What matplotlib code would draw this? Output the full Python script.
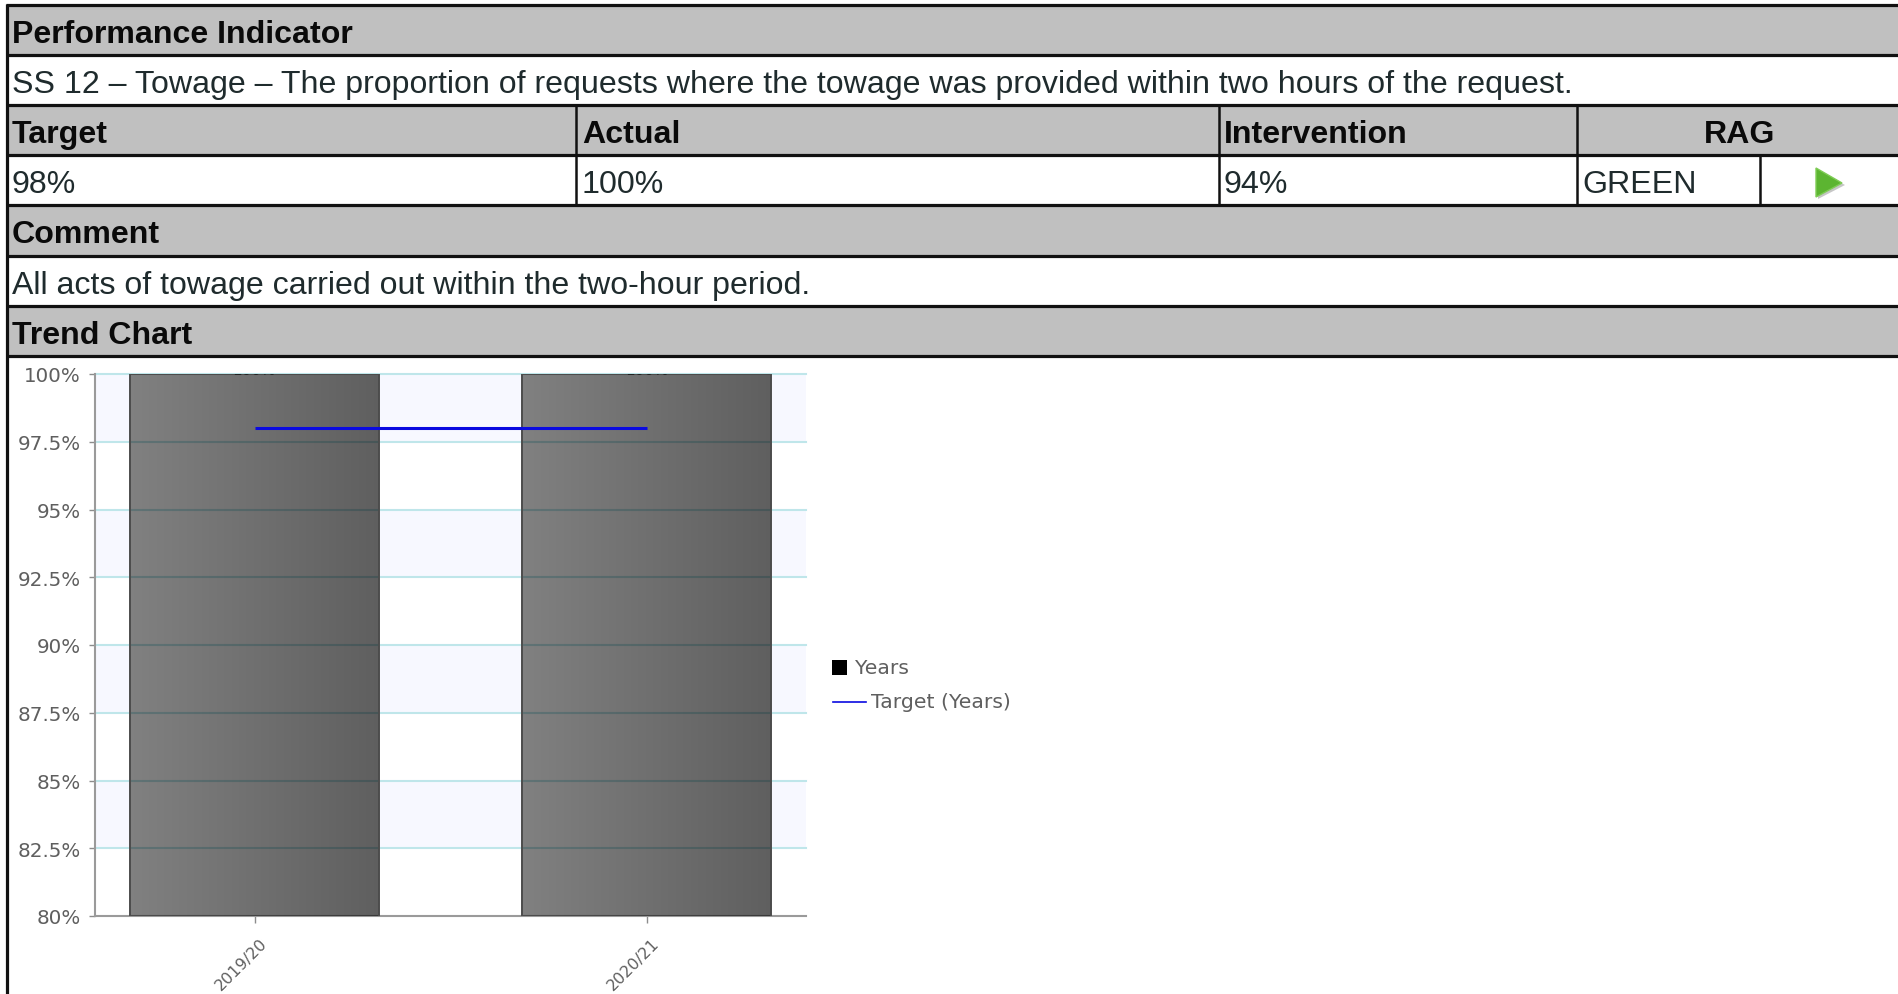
import matplotlib
matplotlib.use("Agg")
import matplotlib.pyplot as plt
from matplotlib.patches import Polygon, Rectangle
from matplotlib.transforms import ScaledTranslation
import numpy as np

# ---------------- DATA ----------------
years = ["2019/20", "2020/21"]
actual = [100, 100]
target = [98, 98]
y_ticks = [80, 82.5, 85, 87.5, 90, 92.5, 95, 97.5, 100]
y_labels = ["80%", "82.5%", "85%", "87.5%", "90%", "92.5%", "95%", "97.5%", "100%"]
legend_labels = ["Years", "Target (Years)"]

title_head = "Performance Indicator"
title_text = "SS 12 – Towage – The proportion of requests where the towage was provided within two hours of the request."
col_heads = ["Target", "Actual", "Intervention", "RAG"]
col_values = ["98%", "100%", "94%", "GREEN"]
comment_head = "Comment"
comment_text = "All acts of towage carried out within the two-hour period."
chart_head = "Trend Chart"

W, H = 1898, 995
GREY = "#c0c0c0"
INK = "#1f2b2d"
CHART_TEXT = "#5f5f5f"
ARIAL = "Liberation Sans"

fig = plt.figure(figsize=(W / 100, H / 100), dpi=100, facecolor="white")

# ---------------- TABLE (pixel coordinates) ----------------
page = fig.add_axes([0, 0, 1, 1], zorder=5)
page.set_xlim(0, W)
page.set_ylim(H, 0)
page.axis("off")
page.patch.set_alpha(0)

row_lines = [6, 56, 106, 156, 206, 257, 307, 357]
for top, bottom in [(0, 1), (2, 3), (4, 5), (6, 7)]:
    page.add_patch(Rectangle((8, row_lines[top]), W - 8, row_lines[bottom] - row_lines[top],
                             facecolor=GREY, edgecolor="none", zorder=0))
for y in row_lines:
    page.plot([6, W], [y, y], color="#111111", lw=2.3, solid_capstyle="butt", zorder=2)
page.plot([7.5, 7.5], [5, H], color="#111111", lw=2.3, solid_capstyle="butt", zorder=2)

for x, y0, y1 in [(576, 106, 206), (1219, 106, 206), (1577, 106, 206), (1760, 156, 206)]:
    page.plot([x, x], [y0, y1], color="#111111", lw=1.8, solid_capstyle="butt", zorder=2)


def cell(x, y, s, bold=False, ha="left"):
    page.text(x, y, s, family=ARIAL, fontsize=23.1, ha=ha, va="center",
              fontweight="bold" if bold else "normal",
              color="#0a0a0a" if bold else INK, zorder=3)


cell(12, 35, title_head, bold=True)
cell(12, 85, title_text)
cell(12, 135, col_heads[0], bold=True)
cell(582, 135, col_heads[1], bold=True)
cell(1224, 135, col_heads[2], bold=True)
cell(1740, 135, col_heads[3], bold=True, ha="center")
cell(12, 185, col_values[0])
cell(582, 185, col_values[1])
cell(1224, 185, col_values[2])
cell(1582, 185, col_values[3])
cell(12, 235, comment_head, bold=True)
cell(12, 286, comment_text)
cell(12, 336, chart_head, bold=True)

# green RAG arrow
page.add_patch(Polygon([(1818, 171), (1818, 200), (1845, 186)], closed=True,
                       facecolor="#8f8f8f", edgecolor="none", alpha=0.5, zorder=3))
page.add_patch(Polygon([(1816, 169), (1816, 198), (1842, 184)], closed=True,
                       facecolor="#5cb531", edgecolor="#7fcc55", lw=1, zorder=4))

# ---------------- TREND CHART ----------------
ax_left, ax_right, ax_top, ax_bottom = 94.5, 806, 375, 917
ax = fig.add_axes([ax_left / W, 1 - ax_bottom / H, (ax_right - ax_left) / W, (ax_bottom - ax_top) / H])

x_pos = np.arange(len(years))
bar_width = 0.634

# alternate bands, grid underneath the see-through bars
for lo, hi in zip(y_ticks[:-1], y_ticks[1:]):
    if y_ticks.index(lo) % 2 == 1:
        ax.axhspan(lo, hi, facecolor="#f7f8ff", edgecolor="none", zorder=0)
ax.bar(x_pos, actual, width=bar_width, facecolor="white", edgecolor="none", zorder=0.5)
for v in y_ticks[1:]:
    ax.axhline(v, color="#bfe6ea", lw=1.5, zorder=1, clip_on=False)

bars = ax.bar(x_pos, actual, width=bar_width, facecolor="none", edgecolor="#4c4c4c", lw=1.4, zorder=4)

shade = np.zeros((1, 200, 4))
shade[0, :, 3] = np.linspace(0.50, 0.63, 200)
for bar in bars:
    im = ax.imshow(shade, extent=[bar.get_x(), bar.get_x() + bar.get_width(), 80, 100],
                   aspect="auto", zorder=3, interpolation="bilinear")
    im.set_clip_path(bar)

# value labels are nearly all cut off by the top of the plot
for x, v in zip(x_pos, actual):
    ax.annotate(f"{v}%", (x, v), xytext=(0, 4), textcoords="offset pixels", ha="center", va="center",
                fontsize=11, color="#222222", annotation_clip=False, clip_on=True, zorder=5)

ax.plot(x_pos, target, color="#0a0ae0", lw=2.2, zorder=6, solid_capstyle="butt")

ax.set_xlim(-0.408, 1.406)
ax.set_ylim(80, 100)
ax.set_yticks(y_ticks)
ax.set_yticklabels(y_labels, fontsize=14.3, color=CHART_TEXT)
ax.set_xticks(x_pos)
ax.set_xticklabels(years, fontsize=11.5, color=CHART_TEXT, rotation=45, ha="right", rotation_mode="anchor")
ax.tick_params(axis="y", length=4, width=1, color="#8c8c8c", pad=6)
ax.tick_params(axis="x", length=5, width=1, color="#8c8c8c", pad=8)
# tick_params resets the label transforms, so the nudge has to come after it
nudge = ScaledTranslation(5 / 100, -1 / 100, fig.dpi_scale_trans)
for lab in ax.get_xticklabels():
    lab.set_transform(lab.get_transform() + nudge)
for side in ["top", "right"]:
    ax.spines[side].set_visible(False)
for side in ["left", "bottom"]:
    ax.spines[side].set_color("#9a9a9a")
    ax.spines[side].set_linewidth(1.5)

# ---------------- LEGEND ----------------
page.add_patch(Rectangle((832, 661), 15, 15, facecolor="black", edgecolor="none"))
page.text(855, 669, legend_labels[0], fontsize=14.7, color=CHART_TEXT, va="center")
page.plot([833, 866], [703, 703], color="#0a0ae0", lw=1.2)
page.text(871, 703, legend_labels[1], fontsize=14.7, color=CHART_TEXT, va="center")

fig.savefig("out.png", dpi=100, facecolor="white")
